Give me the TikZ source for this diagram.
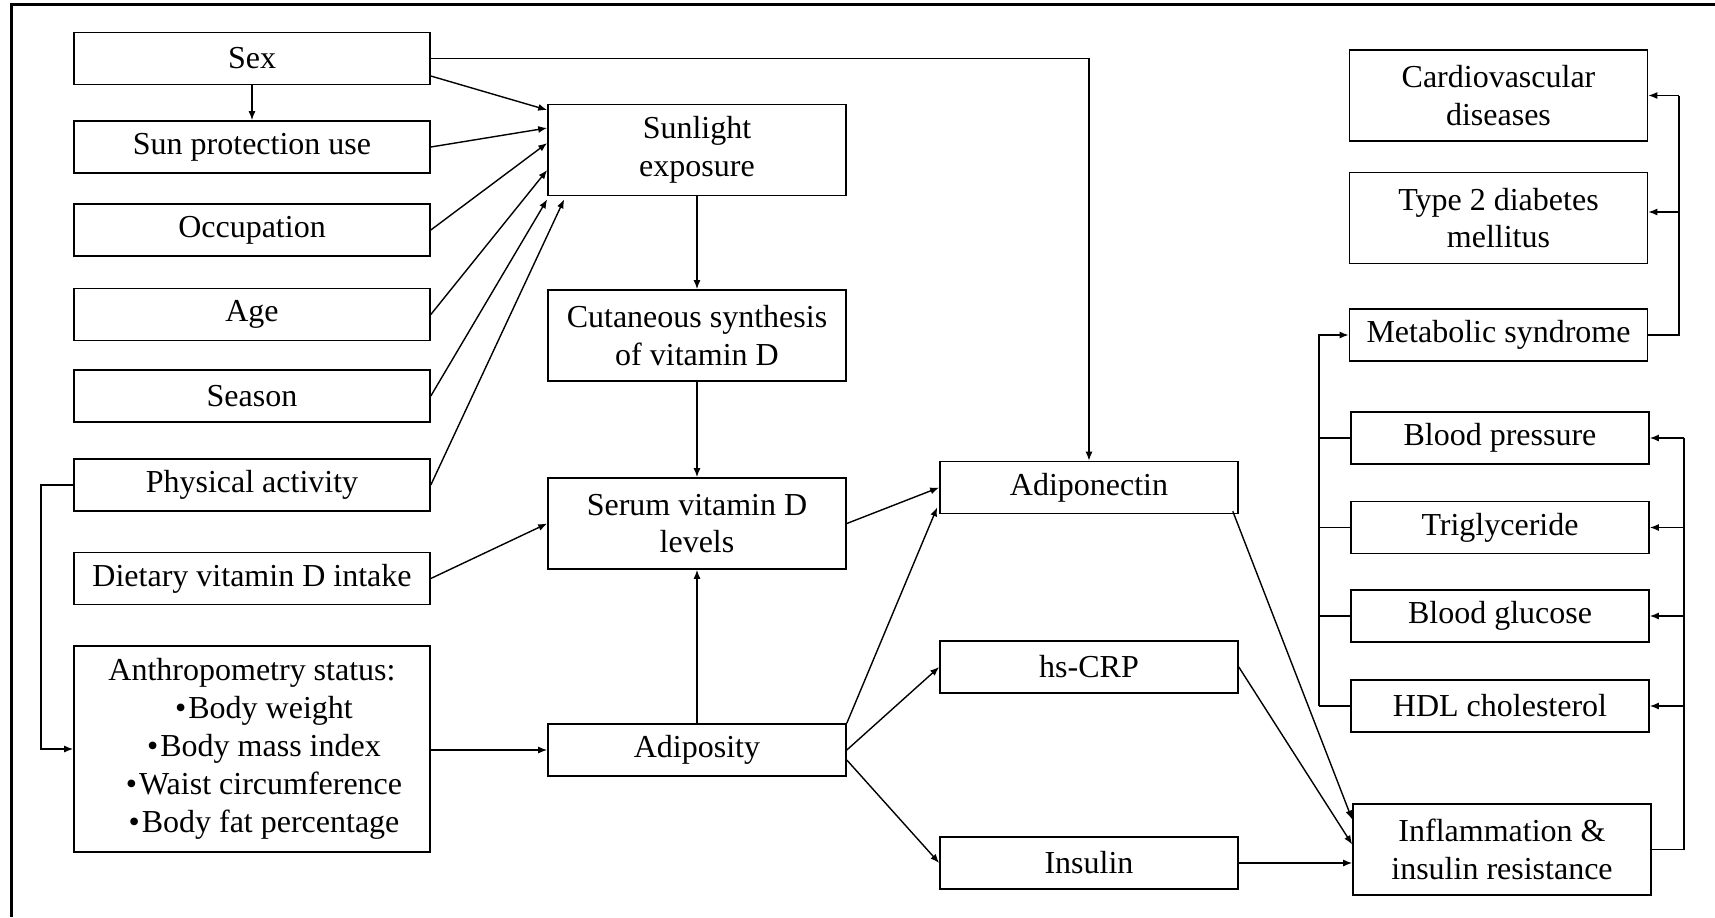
\documentclass[tikz,border=0pt]{standalone}
\usepackage{fontspec}
\setmainfont{Liberation Serif}
\usetikzlibrary{arrows.meta,calc}
\begin{document}
\begin{tikzpicture}[x=0.5pt,y=-0.5pt,
  box/.style={draw, line width=0.8pt, inner sep=0pt, align=center,
    font=\fontsize{16}{18.8}\selectfont, minimum height=26pt},
  colA/.style={box, minimum width=178pt},
  colB/.style={box, minimum width=149pt},
  tall/.style={minimum height=45.5pt},
  arr/.style={line width=0.7pt, -{Latex[length=4.5pt,width=3.5pt]}},
  ln/.style={line width=0.7pt},
  frame/.style={line width=1.5pt}
]
\useasboundingbox (0,0) rectangle (1715,917);
\draw[frame] (11,917) -- (11,4) -- (1715,4);

% left column
\node[colA] (sex) at (252,58.5) {Sex};
\node[colA] (sunp) at (252,147) {Sun protection use};
\node[colA] (occ) at (252,230) {Occupation};
\node[colA] (age) at (252,314.5) {Age};
\node[colA] (season) at (252,396) {Season};
\node[colA] (phys) at (252,485) {Physical activity};
\node[colA] (diet) at (252,578.5) {Dietary vitamin D intake};
\node[colA, minimum height=103pt, font=\fontsize{16}{19}\selectfont] (anthro) at (252,749)
  {Anthropometry status:\\
   \hspace*{12pt}\textbullet\hspace{1pt}Body weight\\
   \hspace*{12pt}\textbullet\hspace{1pt}Body mass index\\
   \hspace*{12pt}\textbullet\hspace{1pt}Waist circumference\\
   \hspace*{12pt}\textbullet\hspace{1pt}Body fat percentage};

% middle column
\node[colB,tall] (sun) at (697,150) {Sunlight\\exposure};
\node[colB,tall] (cut) at (697,335.5) {Cutaneous synthesis\\of vitamin D};
\node[colB,tall] (serum) at (697,523.5) {Serum vitamin D\\levels};
\node[colB] (adip) at (697,750) {Adiposity};

% third column
\node[colB] (adn) at (1089,487.5) {Adiponectin};
\node[colB] (crp) at (1089,667) {hs-CRP};
\node[colB] (ins) at (1089,863) {Insulin};

% right column
\node[colB,tall] (cvd) at (1498.5,95.5) {Cardiovascular\\diseases};
\node[colB,tall] (t2d) at (1498.5,218) {Type 2 diabetes\\mellitus};
\node[colB] (mets) at (1498.5,335) {Metabolic syndrome};
\node[colB] (bp) at (1500,438) {Blood pressure};
\node[colB] (tg) at (1500,527.5) {Triglyceride};
\node[colB] (glu) at (1500,616) {Blood glucose};
\node[colB] (hdl) at (1500,706) {HDL cholesterol};
\node[colB,tall] (infl) at (1502,849.5) {Inflammation \&\\insulin resistance};

% helper columns for buses
\coordinate (lp) at (41,0);
\coordinate (lb) at (1319,0);
\coordinate (rb1) at (1679,0);
\coordinate (rb2) at (1684,0);

% left side
\draw[arr] (sex) -- (sunp);
\draw[arr] ($(sex.east)+(0,17.5)$) -- ($(sun.west)+(0,-40)$);
\draw[arr] (sunp.east) -- ($(sun.west)+(0,-22)$);
\draw[arr] (occ.east) -- ($(sun.west)+(0,-7)$);
\draw[arr] (age.east) -- ($(sun.west)+(0,20)$);
\draw[arr] (season.east) -- ($(sun.south west)+(0,3)$);
\draw[arr] (phys.east) -- ($(sun.south west)+(17,3)$);
\draw[arr] (phys.west) -- (phys.west -| lp) -- (anthro.west -| lp) -- (anthro.west);
\draw[arr] (diet.east) -- (serum.west);
\draw[arr] (anthro.east |- adip.west) -- (adip.west);

% middle
\draw[arr] (sun) -- (cut);
\draw[arr] (cut) -- (serum);
\draw[arr] (adip) -- (serum);
\draw[arr] (sex.east) -- (sex.east -| adn.north) -- (adn.north);
\draw[arr] (serum.east) -- (adn.west);
\draw[arr] (adip.north east) -- ($(adn.south west)+(-2,-7)$);
\draw[arr] (adip.east) -- (crp.west);
\draw[arr] ($(adip.east)+(0,10)$) -- (ins.west);

% into inflammation
\draw[arr] ($(adn.south east)+(-6,-3)$) -- ($(infl.west)+(0,-30)$);
\draw[arr] (crp.east) -- ($(infl.west)+(0,-5)$);
\draw[arr] (ins.east) -- (ins.east -| infl.west);

% metabolic syndrome to outcomes
\coordinate (t2a) at ($(t2d.east)+(0,-6)$);
\draw[ln] (mets.east) -- (mets.east -| rb1) -- (cvd.east -| rb1);
\draw[arr] (cvd.east -| rb1) -- (cvd.east);
\draw[arr] (t2a -| rb1) -- (t2a);

% components to metabolic syndrome
\draw[arr] (hdl.west -| lb) -- (mets.west -| lb) -- (mets.west);
\draw[ln] (bp.west) -- (bp.west -| lb);
\draw[ln] (tg.west) -- (tg.west -| lb);
\draw[ln] (glu.west) -- (glu.west -| lb);
\draw[ln] (hdl.west) -- (hdl.west -| lb);

% inflammation to components
\draw[ln] (infl.east) -- (infl.east -| rb2) -- (bp.east -| rb2);
\draw[arr] (bp.east -| rb2) -- (bp.east);
\draw[arr] (tg.east -| rb2) -- (tg.east);
\draw[arr] (glu.east -| rb2) -- (glu.east);
\draw[arr] (hdl.east -| rb2) -- (hdl.east);
\end{tikzpicture}
\end{document}
